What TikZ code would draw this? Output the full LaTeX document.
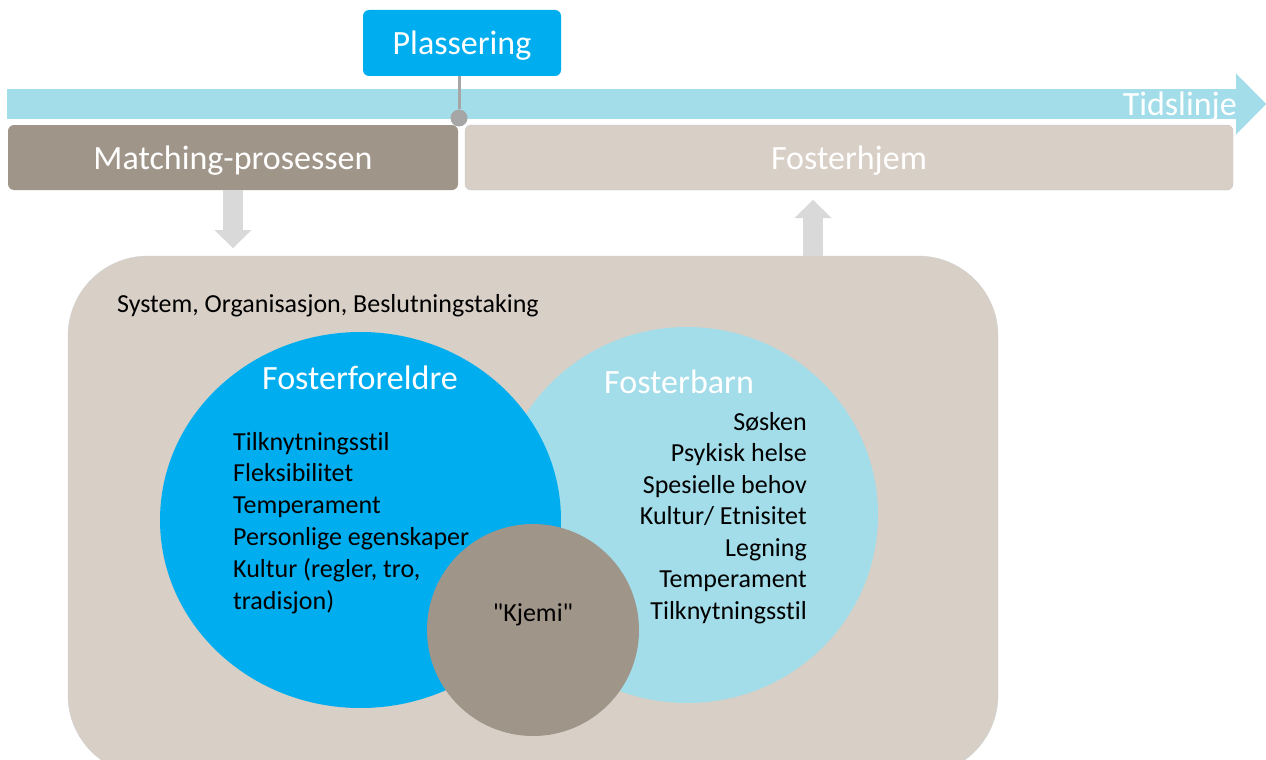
\documentclass[tikz,border=0pt]{standalone}
\usepackage{fontspec}
\setmainfont{Carlito}[Ligatures={ResetAll,CommonOff}]
\newfontfamily\rawfont{Carlito}[Ligatures=CommonOff]
\usepackage{xcolor}
\usepackage{tikz}
\usetikzlibrary{arrows.meta,positioning,shapes.geometric,calc}

\definecolor{cyanblue}{HTML}{00AEEF}
\definecolor{lightblue}{HTML}{A2DDE9}
\definecolor{taupe}{HTML}{A09589}
\definecolor{beige}{HTML}{D8CFC6}
\definecolor{arrowgrey}{HTML}{D9D9D9}
\definecolor{pingrey}{HTML}{A6A6A6}

\begin{document}
\begin{tikzpicture}[x=1pt, y=-1pt,
  title/.style={font=\fontsize{34}{40}\selectfont, text=white},
  body/.style={font=\fontsize{26}{32}\selectfont, text=black, inner sep=0pt},
  phase/.style={rectangle, rounded corners=6pt, minimum height=65pt, inner sep=0pt, text height=29pt, text depth=6pt, title},
  blob/.style={ellipse, inner sep=0pt},
  blockarrow/.style={draw=arrowgrey, line width=20pt, -{Triangle[length=18pt, width=37pt, line width=0.01pt]}}
]
\useasboundingbox (0,0) rectangle (1266,760);

% Timeline
\coordinate (tstart) at (7,104);
\coordinate (tend) at (1266,104);
\draw[lightblue, line width=30pt, -{Triangle[length=30pt, width=61pt, line width=0.01pt]}] (tstart) -- (tend);
\node[title, anchor=east, inner sep=0pt] (tid) at (1237,107) {Tidslinje};

% Phases on the timeline
\node[phase, fill=taupe, minimum width=450pt] (match) at (233,157.5) {Matching-prosessen};
\node[phase, fill=beige, draw=black!22, minimum width=768pt] (home) at (849,157.5) {Fosterhjem};

% Placement marker
\node[phase, fill=cyanblue, minimum width=198pt, minimum height=66pt] (plass) at (462,43) {Plassering};
\node[circle, fill=pingrey, minimum size=17pt, inner sep=0pt] (pdot) at (459,118) {};
\draw[pingrey, line width=3pt] (plass.south -| pdot) -- (pdot);

% System box
\node[rectangle, rounded corners=80pt, fill=beige, draw=black!18, minimum width=930pt, minimum height=519pt, inner sep=0pt] (sys) at (533,515.5) {};
\node[body, anchor=west] (systxt) at (117,306) {System, Organisasjon, Beslutningstaking};

% Block arrows in and out of the system box
\coordinate (dntip) at (233,248);
\coordinate (uptip) at (813,200);
\draw[blockarrow] (match.south) -- (dntip);
\draw[blockarrow] (uptip |- sys.north) -- (uptip);

% Foster child and foster parents
\node[blob, fill=lightblue, minimum width=382pt, minimum height=376pt] (barn) at (687,515) {};
\node[blob, fill=cyanblue, minimum width=401pt, minimum height=376pt] (foreldre) at (360.5,520) {};
\node[circle, fill=taupe, minimum size=212pt, inner sep=0pt] (kjemi) at (533,630) {};

\node[title, inner sep=0pt] (ftitle) at (360,378) {Fosterforeldre};
\node[title, anchor=west, inner sep=0pt] (btitle) at (604,382) {Fosterbarn};

\foreach \t [count=\i] in {Tilknytningsstil, Fleksibilitet, Temperament, Personlige egenskaper, {Kultur (regler, tro,}, tradisjon)}
  \node[body, anchor=base west] (fitem\i) at (233,{450+31.8*(\i-1)}) {\t};

\foreach \t [count=\i] in {S\o sken, Psykisk helse, Spesielle behov, Kultur/ Etnisitet, Legning, Temperament, Tilknytningsstil}
  \node[body, anchor=base east] (bitem\i) at (807,{430+31.5*(\i-1)}) {\t};

\node[body, font=\fontsize{26}{32}\rawfont] (kjemitxt) at (533,615) {"Kjemi"};

\end{tikzpicture}
\end{document}
